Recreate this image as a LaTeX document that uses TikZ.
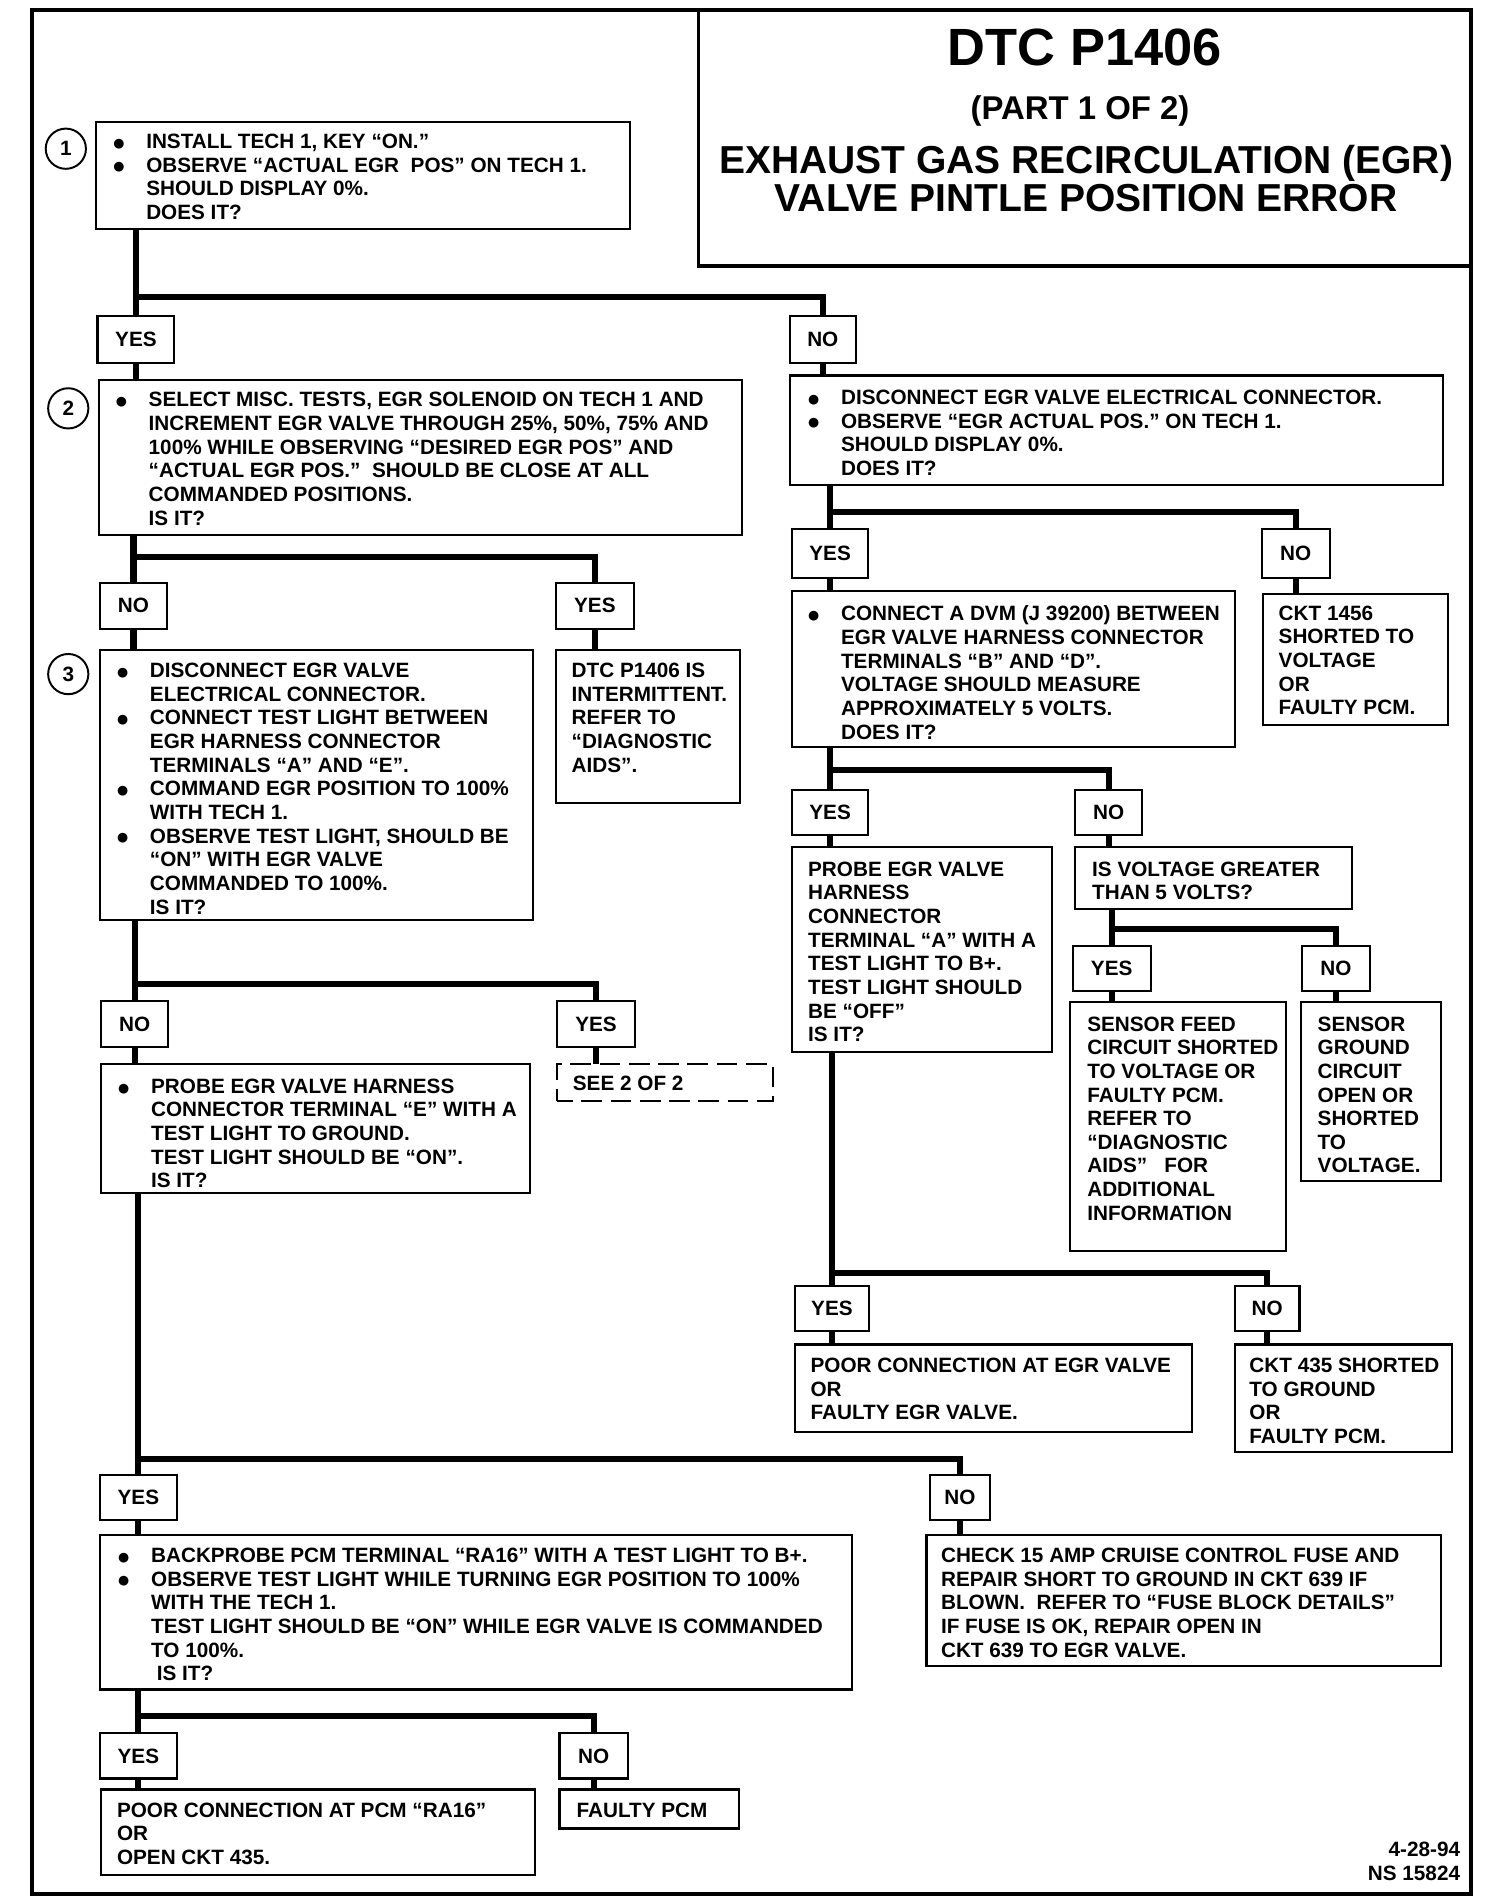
\documentclass[tikz,border=0pt]{standalone}
\usepackage{fontspec}
\setmainfont{Liberation Sans}
\newfontfamily\symf{DejaVu Sans}
\newcommand{\bfnt}{\fontsize{17}{19.4}\selectfont\bfseries}
\newcommand{\bl}{\makebox[27pt][l]{\raisebox{1pt}{\symf\fontsize{10.5}{10.5}\selectfont ●}}}
\newcommand{\ind}{\hspace*{27pt}}
\newcommand{\bx}[5]{\node[box,anchor=north west,minimum width={(#4-#2)*1pt},minimum height={(#5-#3)*1pt}] (#1) at (#2,#3) {};}
\newcommand{\lb}[6]{\node[lbl,anchor=north west,minimum width={(#4-#2)*1pt},minimum height={(#5-#3)*1pt}] (#1) at (#2,#3) {#6};}
\newcommand{\tx}[4]{\node[txt] (#1) at (#2,{#3-6}) {#4};}
\begin{document}
\begin{tikzpicture}[x=1pt,y=-1pt,
  box/.style={draw,line width=1.8pt,inner sep=0pt,outer sep=0pt},
  lbl/.style={draw,line width=1.8pt,inner sep=0pt,outer sep=0pt,font=\bfnt},
  dbox/.style={draw,line width=1.8pt,dash pattern=on 17pt off 7pt,dash phase=4pt,inner sep=0pt,outer sep=0pt},
  txt/.style={inner sep=0pt,outer sep=0pt,align=left,anchor=north west,font=\bfnt},
  conn/.style={line width=5pt},
  frame/.style={line width=3pt},
  circ/.style={draw,circle,line width=1.6pt,minimum size=33pt,inner sep=0pt,font=\fontsize{17}{19}\selectfont\bfseries},
  ttl/.style={inner sep=0pt,anchor=base,font=\bfseries}]
\useasboundingbox (0,0) rectangle (1220,1562);
% frame and title block
\draw[frame] (26,8) rectangle (1207,1554);
\coordinate (tbl) at (573,8);
\coordinate (tbr) at (1207,218);
\draw[frame] (tbl) |- (tbr);
\node[ttl,font=\fontsize{43}{48}\selectfont\bfseries] (t1) at (890,54) {DTC P1406};
\node[ttl,font=\fontsize{27}{30}\selectfont\bfseries] (t2) at (886,98) {(PART 1 OF 2)};
\node[ttl,font=\fontsize{32}{36}\selectfont\bfseries] (t3) at (891,142.5) {EXHAUST GAS RECIRCULATION (EGR)};
\node[ttl,font=\fontsize{32}{36}\selectfont\bfseries] (t4) at (891,173.5) {VALVE PINTLE POSITION ERROR};
% step circles
\node[circ] (c1) at (54,122) {1};
\node[circ] (c2) at (56,335) {2};
\node[circ] (c3) at (56,553) {3};
% left column
\bx{b1}{79}{100}{517}{188}
\tx{b1t}{93}{116}{\bl INSTALL TECH 1, KEY “ON.”\\ \bl OBSERVE “ACTUAL EGR\ \ POS” ON TECH 1.\\ \ind SHOULD DISPLAY 0\%.\\ \ind DOES IT?}
\lb{y1}{80}{259}{143}{298}{YES}
\lb{n1}{648}{259}{702}{298}{NO}
\bx{b2}{81}{312}{609}{439}
\tx{b2t}{95}{328}{\bl SELECT MISC. TESTS, EGR SOLENOID ON TECH 1 AND\\ \ind INCREMENT EGR VALVE THROUGH 25\%, 50\%, 75\% AND\\ \ind 100\% WHILE OBSERVING “DESIRED EGR POS” AND\\ \ind “ACTUAL EGR POS.”\ \ SHOULD BE CLOSE AT ALL\\ \ind COMMANDED POSITIONS.\\ \ind IS IT?}
\lb{n2}{82}{478}{137}{516}{NO}
\lb{y2}{456}{478}{520}{516}{YES}
\bx{b3}{82}{533}{437}{755}
\tx{b3t}{96}{550}{\bl DISCONNECT EGR VALVE\\ \ind ELECTRICAL CONNECTOR.\\ \bl CONNECT TEST LIGHT BETWEEN\\ \ind EGR HARNESS CONNECTOR\\ \ind TERMINALS “A” AND “E”.\\ \bl COMMAND EGR POSITION TO 100\%\\ \ind WITH TECH 1.\\ \bl OBSERVE TEST LIGHT, SHOULD BE\\ \ind “ON” WITH EGR VALVE\\ \ind COMMANDED TO 100\%.\\ \ind IS IT?}
\bx{dtc}{456}{533}{607}{659}
\tx{dtct}{469}{550}{DTC P1406 IS\\ INTERMITTENT.\\ REFER TO\\ “DIAGNOSTIC\\ AIDS”.}
\lb{n3}{83}{821}{138}{859}{NO}
\lb{y3}{457}{821}{521}{859}{YES}
\bx{b4}{83}{873}{435}{979}
\tx{b4t}{97}{891}{\bl PROBE EGR VALVE HARNESS\\ \ind CONNECTOR TERMINAL “E” WITH A\\ \ind TEST LIGHT TO GROUND.\\ \ind TEST LIGHT SHOULD BE “ON”.\\ \ind IS IT?}
\node[dbox,anchor=north west,minimum width=177pt,minimum height=30pt] (see) at (457,873) {};
\tx{seet}{470}{889}{SEE 2 OF 2}
\lb{y4}{82}{1210}{145}{1247}{YES}
\lb{n4}{763}{1210}{812}{1247}{NO}
\bx{b5}{82}{1259}{699}{1386}
\tx{b5t}{97}{1276}{\bl BACKPROBE PCM TERMINAL “RA16” WITH A TEST LIGHT TO B+.\\ \bl OBSERVE TEST LIGHT WHILE TURNING EGR POSITION TO 100\%\\ \ind WITH THE TECH 1.\\ \ind TEST LIGHT SHOULD BE “ON” WHILE EGR VALVE IS COMMANDED\\ \ind TO 100\%.\\ \ind\ IS IT?}
\bx{b6}{760}{1259}{1182}{1367}
\tx{b6t}{772}{1276}{CHECK 15 AMP CRUISE CONTROL FUSE AND\\ REPAIR SHORT TO GROUND IN CKT 639 IF\\ BLOWN.\ \ REFER TO “FUSE BLOCK DETAILS”\\ IF FUSE IS OK, REPAIR OPEN IN\\ CKT 639 TO EGR VALVE.}
\lb{y5}{82}{1422}{145}{1459}{YES}
\lb{n5}{459}{1422}{515}{1459}{NO}
\bx{b7}{83}{1468}{439}{1538}
\tx{b7t}{96}{1485}{POOR CONNECTION AT PCM “RA16”\\ OR\\ OPEN CKT 435.}
\bx{b8}{459}{1468}{606}{1500}
\tx{b8t}{473}{1485}{FAULTY PCM}
% right column
\bx{r1}{648}{308}{1184}{398}
\tx{r1t}{663}{326}{\bl DISCONNECT EGR VALVE ELECTRICAL CONNECTOR.\\ \bl OBSERVE “EGR ACTUAL POS.” ON TECH 1.\\ \ind SHOULD DISPLAY 0\%.\\ \ind DOES IT?}
\lb{y6}{650}{434}{712}{474}{YES}
\lb{n6}{1035}{434}{1091}{474}{NO}
\bx{r2}{650}{485}{1013}{613}
\tx{r2t}{663}{503}{\bl CONNECT A DVM (J 39200) BETWEEN\\ \ind EGR VALVE HARNESS CONNECTOR\\ \ind TERMINALS “B” AND “D”.\\ \ind VOLTAGE SHOULD MEASURE\\ \ind APPROXIMATELY 5 VOLTS.\\ \ind DOES IT?}
\bx{r3}{1036}{487}{1188}{595}
\tx{r3t}{1049}{503}{CKT 1456\\ SHORTED TO\\ VOLTAGE\\ OR\\ FAULTY PCM.}
\lb{y7}{650}{648}{712}{685}{YES}
\lb{n7}{882}{648}{937}{685}{NO}
\bx{r4}{650}{695}{863}{863}
\tx{r4t}{663}{713}{PROBE EGR VALVE\\ HARNESS\\ CONNECTOR\\ TERMINAL “A” WITH A\\ TEST LIGHT TO B+.\\ TEST LIGHT SHOULD\\ BE “OFF”\\ IS IT?}
\bx{r5}{882}{695}{1109}{746}
\tx{r5t}{896}{713}{IS VOLTAGE GREATER\\ THAN 5 VOLTS?}
\lb{y8}{880}{776}{944}{813}{YES}
\lb{n8}{1068}{776}{1124}{813}{NO}
\bx{r6}{878}{822}{1055}{1026}
\tx{r6t}{892}{840}{SENSOR FEED\\ CIRCUIT SHORTED\\ TO VOLTAGE OR\\ FAULTY PCM.\\ REFER TO\\ “DIAGNOSTIC\\ AIDS”\ \ \ FOR\\ ADDITIONAL\\ INFORMATION}
\bx{r7}{1067}{822}{1182}{969}
\tx{r7t}{1081}{840}{SENSOR\\ GROUND\\ CIRCUIT\\ OPEN OR\\ SHORTED\\ TO\\ VOLTAGE.}
\lb{y9}{652}{1055}{713}{1092}{YES}
\lb{n9}{1013}{1055}{1066}{1092}{NO}
\bx{r8}{652}{1103}{978}{1175}
\tx{r8t}{665}{1120}{POOR CONNECTION AT EGR VALVE\\ OR\\ FAULTY EGR VALVE.}
\bx{r9}{1013}{1103}{1191}{1191}
\tx{r9t}{1025}{1120}{CKT 435 SHORTED\\ TO GROUND\\ OR\\ FAULTY PCM.}
% footer
\node[inner sep=0pt,anchor=north east,align=right,font=\bfnt] (foot) at (1198,1511) {4-28-94\\ NS 15824};
% connectors
\coordinate (h1) at (0,244);
\coordinate (h2) at (0,457);
\coordinate (h3) at (0,807);
\coordinate (h4) at (0,1197);
\coordinate (h5) at (0,1408);
\coordinate (h6) at (0,420);
\coordinate (h7) at (0,632);
\coordinate (h8) at (0,762);
\coordinate (h9) at (0,1044);
\draw[conn] (b1.south -| y1) -- (y1.north);
\draw[conn] (y1 |- h1) -| (n1.north);
\draw[conn] (y1.south) -- (y1.south |- b2.north);
\draw[conn] (n1.south) -- (n1.south |- r1.north);
\draw[conn] (b2.south -| n2) -- (n2.north);
\draw[conn] (n2 |- h2) -| (y2.north);
\draw[conn] (n2.south) -- (n2.south |- b3.north);
\draw[conn] (y2.south) -- (y2.south |- dtc.north);
\draw[conn] (b3.south -| n3) -- (n3.north);
\draw[conn] (n3 |- h3) -| (y3.north);
\draw[conn] (n3.south) -- (n3.south |- b4.north);
\draw[conn] (y3.south) -- (y3.south |- see.north);
\draw[conn] (b4.south -| y4) -- (y4.north);
\draw[conn] (y4 |- h4) -| (n4.north);
\draw[conn] (y4.south) -- (y4.south |- b5.north);
\draw[conn] (n4.south) -- (n4.south |- b6.north);
\draw[conn] (b5.south -| y5) -- (y5.north);
\draw[conn] (y5 |- h5) -| (n5.north);
\draw[conn] (y5.south) -- (y5.south |- b7.north);
\draw[conn] (n5.south) -- (n5.south |- b8.north);
\draw[conn] (r1.south -| y6) -- (y6.north);
\draw[conn] (y6 |- h6) -| (n6.north);
\draw[conn] (y6.south) -- (y6.south |- r2.north);
\draw[conn] (n6.south) -- (n6.south |- r3.north);
\draw[conn] (r2.south -| y7) -- (y7.north);
\draw[conn] (y7 |- h7) -| (n7.north);
\draw[conn] (y7.south) -- (y7.south |- r4.north);
\draw[conn] (n7.south) -- (n7.south |- r5.north);
\draw[conn] (r5.south -| y8) -- (y8.north);
\draw[conn] (y8 |- h8) -| (n8.north);
\draw[conn] (y8.south) -- (y8.south |- r6.north);
\draw[conn] (n8.south) -- (n8.south |- r7.north);
\draw[conn] (r4.south -| y9) -- (y9.north);
\draw[conn] (y9 |- h9) -| (n9.north);
\draw[conn] (y9.south) -- (y9.south |- r8.north);
\draw[conn] (n9.south) -- (n9.south |- r9.north);
\end{tikzpicture}
\end{document}
